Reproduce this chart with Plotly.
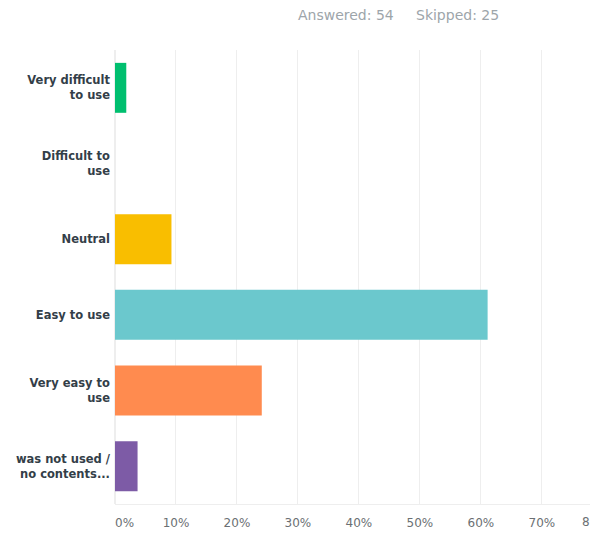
import plotly.graph_objects as go

categories = ["Very difficult<br>to use", "Difficult to<br>use", "Neutral", "Easy to use",
              "Very easy to<br>use", "was not used /<br>no contents..."]
values = [1.85, 0.0, 9.26, 61.11, 24.07, 3.70]
colors = ["#00BF6F", "#FFFFFF", "#F9BE00", "#6BC8CD", "#FF8B4F", "#7D5BA6"]
tick_vals = [0, 10, 20, 30, 40, 50, 60, 70]
tick_text = ["\u00a0\u00a0\u00a0\u00a0\u00a00%", "10%", "20%", "30%", "40%", "50%", "60%", "70%"]
answered = 54
skipped = 25

fig = go.Figure(go.Bar(
    x=values, y=categories, orientation="h",
    marker=dict(color=colors, line=dict(width=0)),
    hoverinfo="x+y",
))

fig.update_layout(
    width=590, height=533,
    margin=dict(l=115, r=0, t=50, b=29),
    plot_bgcolor="white", paper_bgcolor="white",
    showlegend=False,
    bargap=0.34,
    font=dict(family="DejaVu Sans, sans-serif"),
    xaxis=dict(
        range=[0, 77.9],
        tickvals=tick_vals, ticktext=tick_text,
        showgrid=True, gridcolor="#EEEEEE", gridwidth=1,
        zeroline=True, zerolinecolor="#EEEEEE",
        showline=True, linecolor="#EEEEEE",
        ticks="", ticklabelstandoff=8,
        tickfont=dict(size=12, color="#6B6F73"),
    ),
    yaxis=dict(
        categoryorder="array", categoryarray=categories[::-1],
        showgrid=False, ticks="", ticklabelstandoff=4,
        tickfont=dict(size=11.5, color="#333E48", family="DejaVu Sans, sans-serif", weight="bold"),
    ),
    annotations=[
        dict(text=f"Answered: {answered}&nbsp;&nbsp;&nbsp;&nbsp;&nbsp;Skipped: {skipped}",
             xref="paper", yref="paper", x=0.596, y=1.0, yshift=35, xanchor="center", yanchor="middle",
             showarrow=False, font=dict(size=14, color="#9DA5AA")),
        dict(text="80%", xref="paper", yref="paper", x=1.0, y=0, xshift=-10, yshift=-18,
             xanchor="left", yanchor="middle",
             showarrow=False, font=dict(size=12, color="#6B6F73")),
    ],
)

fig.write_html("out.html",
               config={"displayModeBar": False},
               post_script="document.body.style.margin='0';document.body.style.overflow='hidden';")
